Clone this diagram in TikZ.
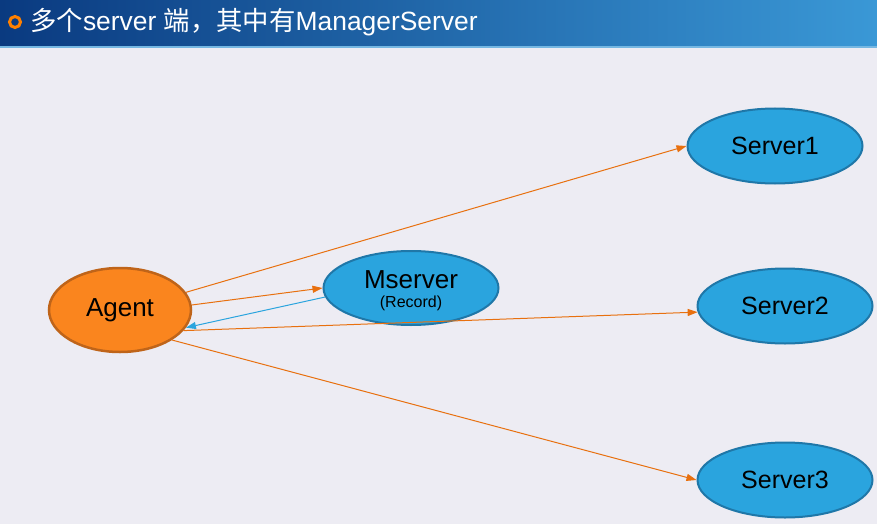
\documentclass[tikz,border=0pt]{standalone}
\usepackage{fontspec}
\setmainfont{Liberation Sans}
\newfontfamily\cjk{Noto Sans CJK SC}
\usetikzlibrary{shapes.geometric}
\usetikzlibrary{arrows.meta}
\usetikzlibrary{positioning}
\definecolor{bgcol}{HTML}{EDECF3}
\definecolor{hdleft}{HTML}{0A3A80}
\definecolor{hdright}{HTML}{3A98D6}
\definecolor{agentfill}{HTML}{FA851E}
\definecolor{agentline}{HTML}{BF6419}
\definecolor{srvfill}{HTML}{2AA4DE}
\definecolor{srvline}{HTML}{1F77A8}
\definecolor{arrorange}{HTML}{E8700F}

\begin{document}
\begin{tikzpicture}
[x=1pt,y=-1pt,
agent/.style={ellipse,draw=agentline,fill=agentfill,line width=2.5pt,inner sep=0pt,minimum width=142pt,minimum height=84pt,font=\fontsize{26}{30}\selectfont},
srv/.style={ellipse,draw=srvline,fill=srvfill,line width=2pt,inner sep=0pt,minimum width=175pt,minimum height=75pt,font=\fontsize{25}{30}\selectfont},
link/.style={arrorange,line width=1pt,-{Triangle[length=10pt,width=7pt]}}]

% background and title bar
\useasboundingbox (0,0) rectangle (877,524);
\fill[bgcol] (0,0) rectangle (877,524);
\shade[left color=hdleft,right color=hdright] (0,0) rectangle (877,47);
\fill[hdright!70!white] (0,46) rectangle (877,48.5);
\draw[orange,line width=3pt] (15,22) circle (5.5);
\node[anchor=base west,inner sep=0pt,text=white,font=\fontsize{26.4}{30}\selectfont] (Title) at (30,31)
  {{\cjk 多个}server {\cjk 端，其中有}ManagerServer};

\node[agent] (Agent) at (120,310) {Agent};
\node[srv,minimum height=74pt] (Mserver) at (411,288) {};
\node[font=\fontsize{26}{30}\selectfont,inner sep=0pt] (MserverName) at (411,280) {Mserver};
\node[font=\fontsize{16}{18}\selectfont,inner sep=0pt] (MserverNote) at (411,303) {(Record)};
\node[srv] (Server1) at (775,146) {Server1};
\node[srv] (Server2) at (785,306) {Server2};
\node[srv] (Server3) at (785,480) {Server3};

\path (Agent.15) edge[link] (Server1.west)
	(Agent.4) edge[link] (Mserver.west)
	(Agent.-18) edge[link] (Server2.184)
	(Agent.-30) edge[link] (Server3.west)
	(Mserver.186) edge[link,srvfill] (Agent.-15);
\end{tikzpicture}
\end{document}
